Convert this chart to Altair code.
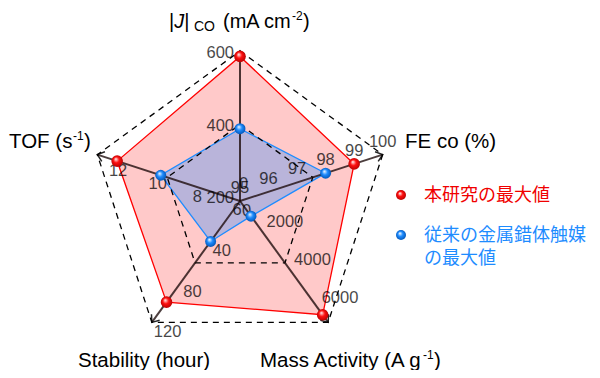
import math
import pandas as pd
import altair as alt

# ---------------- data ----------------
axis_names = ["|J| CO", "FE co", "Mass Activity", "Stability", "TOF"]
axis_angle = [90, 18, -54, -126, 162]          # direction of each spoke (deg, ccw)
axis_min = [200, 95, 0, 0, 6]                  # value at the centre
axis_tip = [615, 100, 6400, 120, 13.2]         # value at the arrow tip
this_work = [600, 99, 6000, 100, 12.2]         # 本研究の最大値
conventional = [400, 98, 800, 40, 10]          # 従来の金属錯体触媒の最大値
tick_values = [
    [200, 400, 600],
    [95, 96, 97, 98, 99, 100],
    [0, 2000, 4000, 6000],
    [0, 40, 80, 120],
    [6, 8, 10, 12],
]
grid_fracs = [0.51, 1.0]

# ---------------- layout helpers ----------------
R = 150.0
CX, CY = 240, 201          # page position of the centre


def P(px, py):
    """page pixel -> data coords"""
    return px - CX, CY - py


def radius(i, v):
    return (v - axis_min[i]) / (axis_tip[i] - axis_min[i]) * R


def pt(i, r):
    a = math.radians(axis_angle[i])
    return r * math.cos(a), r * math.sin(a)


xs = alt.Scale(domain=[-232, 352], nice=False, zero=False)
ys = alt.Scale(domain=[-169, 193], nice=False, zero=False)


def XY(xf="x", yf="y"):
    return dict(x=alt.X(f"{xf}:Q", scale=xs, axis=None), y=alt.Y(f"{yf}:Q", scale=ys, axis=None))


# polygons
def poly_df(vals):
    rows = []
    for i, v in enumerate(vals):
        x, y = pt(i, radius(i, v))
        rows.append({"o": i, "x": x, "y": y})
    return pd.DataFrame(rows)


red_df = poly_df(this_work)
blue_df = poly_df(conventional)

red_poly = alt.Chart(red_df).mark_line(
    interpolate="linear-closed", fill="#FFC9C9", stroke="#FF0000", strokeWidth=1.3
).encode(order="o:Q", **XY())
blue_poly = alt.Chart(blue_df).mark_line(
    interpolate="linear-closed", fill="#B9B4DA", stroke="#1E8CFF", strokeWidth=1.3
).encode(order="o:Q", **XY())

# dashed grid pentagons
grid_rows = []
for g, f in enumerate(grid_fracs):
    for i in range(5):
        x, y = pt(i, f * R)
        grid_rows.append({"g": g, "o": i, "x": x, "y": y})
grid_df = pd.DataFrame(grid_rows)
grid = alt.Chart(grid_df).mark_line(
    interpolate="linear-closed", color="#000000", strokeWidth=1.3, strokeDash=[6, 5]
).encode(detail="g:N", order="o:Q", **XY())

# spokes
spoke_rows = []
for i in range(5):
    x, y = pt(i, R)
    spoke_rows.append({"x": 0, "y": 0, "x2": x, "y2": y, "ang": (-axis_angle[i]) % 360})
spoke_df = pd.DataFrame(spoke_rows)
spokes = alt.Chart(spoke_df).mark_rule(color="#1a0808", opacity=0.78, strokeWidth=2).encode(
    x=alt.X("x:Q", scale=xs, axis=None), y=alt.Y("y:Q", scale=ys, axis=None),
    x2="x2:Q", y2="y2:Q")
arrows = alt.Chart(spoke_df).mark_point(
    shape="M -1 -0.8 L 0 0 L -1 0.8", filled=False, size=160, color="#000000",
    opacity=0.85, strokeWidth=1.5
).encode(x=alt.X("x2:Q", scale=xs, axis=None), y=alt.Y("y2:Q", scale=ys, axis=None),
         angle=alt.Angle("ang:Q", scale=None))

# tick labels
label_off = [(-6, -3, "right"), (0, -13, "center"), (-1, -17, "left"), (2, 10, "left"), (-3, 9, "center")]
tick_layers = []
for i, tv in enumerate(tick_values):
    dx, dy, al = label_off[i]
    rows = []
    for v in tv:
        x, y = pt(i, radius(i, v))
        rows.append({"x": x + dx, "y": y - dy, "t": str(v)})
    tick_layers.append(
        alt.Chart(pd.DataFrame(rows)).mark_text(
            align=al, baseline="middle", font="Liberation Sans", fontSize=16.5,
            color="#000000", opacity=0.72
        ).encode(text="t:N", **XY())
    )

# spheres
def sphere(main, dark):
    return alt.RadialGradient(
        gradient="radial",
        stops=[alt.GradientStop(color="#ffffff", offset=0.0),
               alt.GradientStop(color=main, offset=0.45),
               alt.GradientStop(color=dark, offset=1.0)],
        x1=0.38, y1=0.32, r1=0.0, x2=0.5, y2=0.5, r2=0.55)

red_fill = sphere("#FF1010", "#B00000")
blue_fill = sphere("#1E8CFF", "#0050B0")

red_pts = alt.Chart(red_df).mark_circle(fill=red_fill, size=135, opacity=1).encode(**XY())
blue_pts = alt.Chart(blue_df).mark_circle(fill=blue_fill, size=120, opacity=1).encode(**XY())

# legend
leg_items = ["本研究の最大値", "従来の金属錯体触媒\nの最大値"]
leg_df = pd.DataFrame([dict(zip(["x", "y"], P(401, 195)))])
leg_df2 = pd.DataFrame([dict(zip(["x", "y"], P(401, 235)))])
leg_red_pt = alt.Chart(leg_df).mark_circle(fill=red_fill, size=100, opacity=1).encode(**XY())
leg_blue_pt = alt.Chart(leg_df2).mark_circle(fill=blue_fill, size=100, opacity=1).encode(**XY())

lx, ly = P(424, 196)
leg_red_txt = alt.Chart(pd.DataFrame([{"x": lx, "y": ly, "t": leg_items[0]}])).mark_text(
    align="left", baseline="middle", font="Noto Sans CJK JP", fontSize=18, color="#F00000"
).encode(text="t:N", **XY())
b_lines = leg_items[1].split("\n")
bx, by1 = P(424, 236)
_, by2 = P(424, 259)
leg_blue_txt = alt.Chart(pd.DataFrame([
    {"x": bx, "y": by1, "t": b_lines[0]},
    {"x": bx, "y": by2, "t": b_lines[1]},
])).mark_text(
    align="left", baseline="middle", font="Noto Sans CJK JP", fontSize=18, color="#1E8CFF"
).encode(text="t:N", **XY())

# axis titles (rich text composed from pieces)
def piece(px, py, txt, size=20.5):
    x, y = P(px, py)
    return {"x": x, "y": y, "t": txt, "s": size}

normal_pieces = [
    piece(169, 28, "|", 20), piece(184.2, 28, "|", 20),
    piece(223, 28, "(mA cm", 20), piece(303, 28, ")", 20),
    piece(405, 148, "FE co (%)"),
    piece(9, 148, "TOF (s"), piece(84, 148, ")"),
    piece(78, 367, "Stability (hour)"),
    piece(260, 367, "Mass Activity (A g"), piece(434, 367, ")"),
]
small_pieces = [
    piece(194, 31, "CO", 14),
    piece(292, 20, "-2", 12),
    piece(73, 140, "-1", 12),
    piece(423, 359, "-1", 12),
]
italic_pieces = [piece(174.2, 28, "J", 20)]


def title_layer(rows, style="normal"):
    return alt.Chart(pd.DataFrame(rows)).mark_text(
        align="left", baseline="alphabetic", font="Liberation Sans", fontStyle=style,
        color="#000000"
    ).encode(text="t:N", size=alt.Size("s:Q", scale=None, legend=None), **XY())


titles = [title_layer(normal_pieces), title_layer(small_pieces), title_layer(italic_pieces, "italic")]

chart = alt.layer(
    red_poly, blue_poly, grid, spokes, arrows, *tick_layers, red_pts, blue_pts,
    leg_red_pt, leg_blue_pt, leg_red_txt, leg_blue_txt, *titles
).properties(width=584, height=362, padding=0, autosize="none").configure_view(stroke=None)

chart.save("out.html", embed_options={"renderer": "svg", "actions": False})
